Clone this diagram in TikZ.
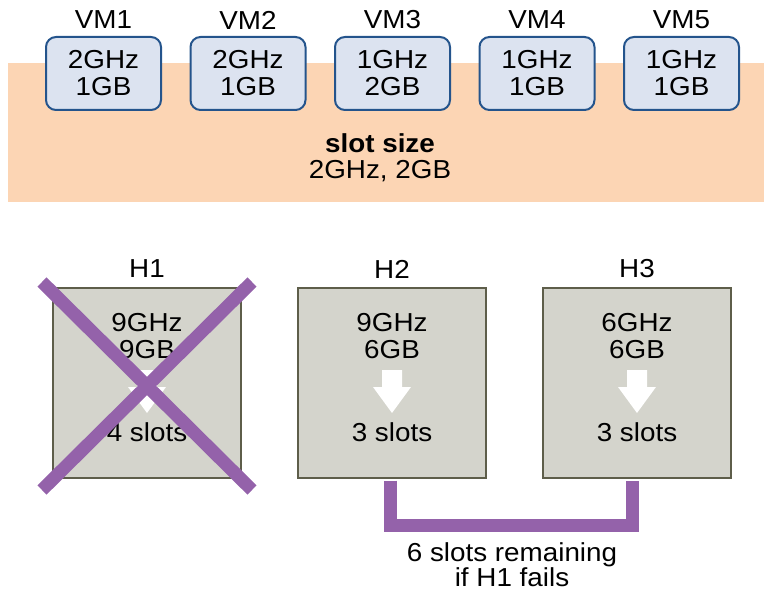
\documentclass[tikz,border=0pt]{standalone}
\usepackage{fontspec}
\setmainfont{Liberation Sans}[FakeStretch=1.07]
\definecolor{band}{HTML}{FCD5B4}
\definecolor{vmfill}{HTML}{DCE3F0}
\definecolor{vmline}{HTML}{24548C}
\definecolor{hostfill}{HTML}{D4D4CC}
\definecolor{hostline}{HTML}{5E5E4A}
\definecolor{purp}{HTML}{9462AA}
\newcommand{\fs}{\fontsize{26}{27}\selectfont}
\begin{document}
\begin{tikzpicture}[x=1pt,y=-1pt,
  vmbox/.style={draw=vmline, fill=vmfill, line width=2pt, rounded corners=10pt, minimum width=115pt, minimum height=73pt, inner sep=0pt, align=center, font=\fs},
  host/.style={draw=hostline, fill=hostfill, line width=2.5pt, minimum width=188pt, minimum height=190pt, inner sep=0pt},
  lbl/.style={font=\fs, align=center, inner sep=0pt},
  xline/.style={draw=purp, line width=13pt},
  conn/.style={draw=purp, line width=13pt},
  downarrow/.style={fill=white}]
\useasboundingbox (0,0) rectangle (764,594);
\fill[band] (8,63) rectangle (764,202);
% VMs
\foreach \i/\x/\a/\b in {1/103.5/2GHz/1GB, 2/248/2GHz/1GB, 3/392.5/1GHz/2GB, 4/537/1GHz/1GB, 5/681.5/1GHz/1GB}{
  \node[vmbox] (vm\i) at (\x,73.5) {\a\\\b};
  \node[lbl] (vmlab\i) at (\x,20) {VM\i};
}
\node[lbl] (slot) at (380,143) {\bfseries slot size};
\node[lbl] (slotval) at (380,171) {2GHz, 2GB};
% hosts
\node[lbl] (hlab1) at (147,269) {H1};
\node[lbl] (hlab2) at (392,269) {H2};
\node[lbl] (hlab3) at (637,269) {H3};
\node[host] (h1) at (147,383) {};
\node[host] (h2) at (392,383) {};
\node[host] (h3) at (637,383) {};
\draw[conn] ([xshift=-2pt,yshift=-1.25pt]h2.south) -- ++(0,45.25) -| ([xshift=-5pt,yshift=-1.25pt]h3.south);
\foreach \n/\a/\b/\s in {h1/9GHz/9GB/4, h2/9GHz/6GB/3, h3/6GHz/6GB/3}{
  \begin{scope}[shift={(\n.center)}]
    \fill[downarrow] (-10,-13) -- (10,-13) -- (10,4) -- (19,4) -- (0,30) -- (-19,4) -- (-10,4) -- cycle;
    \node[lbl] (\n txt) at (0,-47) {\a\\\b};
    \node[lbl] (\n slots) at (0,49) {\s{} slots};
  \end{scope}
}
% cross on H1
\draw[xline] (42,282) -- (252,490);
\draw[xline] (252,282) -- (42,490);
\node[lbl] (remain) at (512,565) {6 slots remaining\\[-2pt]if H1 fails};
\end{tikzpicture}
\end{document}
